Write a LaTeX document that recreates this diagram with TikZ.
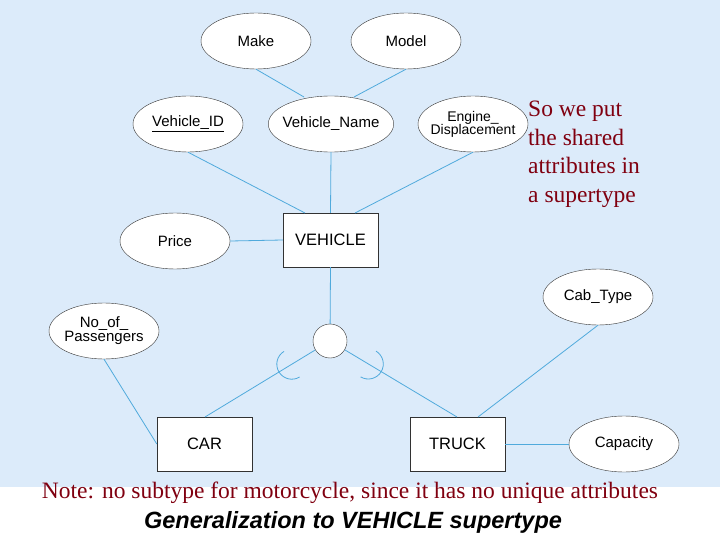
\documentclass[tikz,border=0pt]{standalone}
\usepackage{fontspec}
\setmainfont{Liberation Serif}
\setsansfont{Liberation Sans}
\definecolor{bgblue}{RGB}{220,235,250}
\definecolor{lineblue}{RGB}{80,170,220}
\definecolor{darkred}{RGB}{128,0,16}
\definecolor{edge}{RGB}{50,50,50}
\usetikzlibrary{shapes.geometric}
\begin{document}
\begin{tikzpicture}[x=1pt,y=-1pt,
  attr/.style={ellipse,draw=edge,fill=white,minimum width=110pt,minimum height=56pt,inner sep=-4pt,font=\sffamily\fontsize{15}{16}\selectfont,align=center},
  ent/.style={rectangle,draw=edge,fill=white,minimum width=95pt,minimum height=54pt,font=\sffamily\fontsize{16.5}{17}\selectfont},
  conn/.style={draw=lineblue,line width=0.8pt},
  redtxt/.style={text=darkred,font=\rmfamily\fontsize{23.5}{28.6}\selectfont}]
\fill[bgblue] (0,0) rectangle (720,487);
\useasboundingbox (0,0) rectangle (720,540);
\node[attr] (make) at (256,41) {Make};
\node[attr] (model) at (406,41) {Model};
\node[attr] (vid) at (188,124) {\underline{Vehicle\_ID}};
\node[attr] (vname) at (331,124) {Vehicle\_Name};
\node[attr,font=\sffamily\fontsize{14}{15}\selectfont] (eng) at (473,124) {Engine\_\\[-2pt]Displacement};
\node[attr] (price) at (175,241) {Price};
\node[ent] (veh) at (330.5,240) {VEHICLE};
\node[attr] (cab) at (598,297) {Cab\_Type};
\node[attr] (nop) at (104,331) {No\_of\_\\[-2pt]Passengers};
\node[ent] (car) at (204.5,444) {CAR};
\node[ent] (truck) at (457.5,444) {TRUCK};
\node[attr] (cap) at (624,444) {Capacity};
\coordinate (vnt1) at (304,97);
\coordinate (vnt2) at (354,97);
\coordinate (vt1) at (305,213);
\coordinate (vt2) at (355,213);
\coordinate (ct) at (205,417);
\coordinate (tt1) at (457,417);
\coordinate (tt2) at (478,417);
\coordinate (cc) at (330,341);
\draw[conn] (make.south) -- (vnt1);
\draw[conn] (model.south) -- (vnt2);
\draw[conn] (vid.south) -- (vt1);
\draw[conn] (vname.south) -- (veh.north);
\draw[conn] (eng.south) -- (vt2);
\draw[conn] (price.east) -- (veh.west);
\draw[conn] (veh.south) -- (cc);
\draw[conn] (cc) -- (ct);
\draw[conn] (cc) -- (tt1);
\draw[conn] (cab.south) -- (tt2);
\draw[conn] (nop.south) -- (car.west);
\draw[conn] (truck.east) -- (cap.west);
\node[circle,draw=edge,fill=white,minimum size=34pt,inner sep=0pt] (circ) at (cc) {};
\coordinate (sl) at (291.8,364.2);
\coordinate (sr) at (368.3,364);
\draw[conn] ([shift={(58.7:15)}]sl) arc[start angle=58.7,end angle=238.7,radius=15];
\draw[conn] ([shift={(-59.1:15)}]sr) arc[start angle=-59.1,end angle=120.9,radius=15];
\node[redtxt,anchor=north west,align=left,inner sep=0pt] (note1) at (528,101) {So we put\\the shared\\attributes in\\a supertype};
\node[redtxt,inner sep=0pt] (note2) at (350,493) {Note: no subtype for motorcycle, since it has no unique attributes};
\node[font=\sffamily\bfseries\itshape\fontsize{23.5}{25}\selectfont,inner sep=0pt] (title) at (353,522) {Generalization to VEHICLE supertype};
\end{tikzpicture}
\end{document}
